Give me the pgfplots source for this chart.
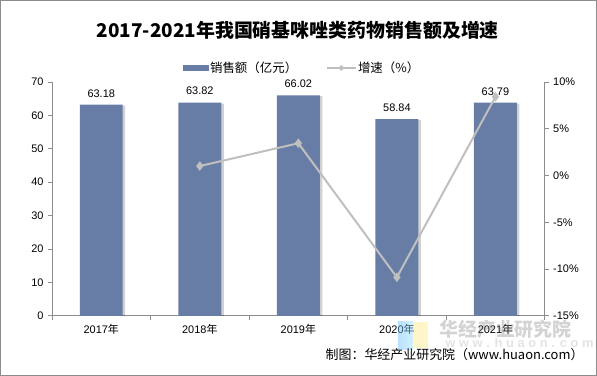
\documentclass[border=0pt]{standalone}
\usepackage{pgfplots}
\pgfplotsset{compat=1.18}
\usetikzlibrary{shapes.geometric}
\usepackage{fontspec}
\setmainfont{Liberation Sans}
\newfontfamily\cjk{Noto Sans CJK SC}
\definecolor{barc}{HTML}{687DA6}
\definecolor{linec}{HTML}{BFBFBF}
\definecolor{axc}{HTML}{8C8C8C}
\begin{document}
\begin{tikzpicture}[x=1bp,y=1bp]
\draw[color=axc, line width=1bp] (0.5,0.5) rectangle (596.5,375.5);
% title
\node[font=\cjk\bfseries\fontsize{19}{19}\selectfont] at (298,346) {2017-2021年我国硝基咪唑类药物销售额及增速};
% legend
\fill[barc] (183,305) rectangle (209,311);
\node[anchor=west, font=\cjk\fontsize{12.5}{13}\selectfont, inner sep=1bp] at (209,308) {销售额（亿元）};
\draw[linec, line width=2bp] (327,308) -- (356,308);
\node[diamond, fill=linec, inner sep=0pt, minimum size=6bp] at (341.5,308) {};
\node[anchor=west, font=\cjk\fontsize{12.5}{13}\selectfont, inner sep=1bp] at (357,308) {增速（\%）};
\begin{axis}[at={(52bp,60bp)}, anchor=south west, scale only axis,
  width=493bp, height=234bp,
  xmin=-0.5, xmax=4.5, ymin=0, ymax=70,
  ytick={0,10,...,70},
  xtick={0,...,4},
  xticklabels={2017{\cjk 年},2018{\cjk 年},2019{\cjk 年},2020{\cjk 年},2021{\cjk 年}},
  minor xtick={-0.5,0.5,1.5,2.5,3.5,4.5},
  axis y line*=left, axis x line*=bottom,
  axis line style={axc, line width=0.8bp, -},
  major x tick style={draw=none},
  minor x tick style={axc, line width=0.8bp},
  y tick style={axc, line width=0.8bp},
  tick align=outside, major tick length=4bp, minor tick length=4bp,
  ticklabel style={font=\fontsize{11}{12}\selectfont},
  /pgf/number format/assume math mode=true,
  yticklabel style={xshift=-1bp},
  xticklabel style={yshift=-1bp},
  clip=false,
]
% soft shadow of the bars
\addplot[ybar, bar width=43bp, bar shift=2.5bp, fill=black, fill opacity=0.18, draw=none, forget plot]
  coordinates {(0,62.9) (1,63.54) (2,65.74) (3,58.56) (4,63.51)};
\addplot[ybar, bar width=43bp, bar shift=0pt, fill=barc, draw=none,
  nodes near coords,
  nodes near coords style={font=\fontsize{11}{12}\selectfont, black, yshift=4bp,
    /pgf/number format/.cd, fixed, precision=2, fixed zerofill, assume math mode=true},
] coordinates {(0,63.18) (1,63.82) (2,66.02) (3,58.84) (4,63.79)};
\end{axis}
\begin{axis}[at={(52bp,60bp)}, anchor=south west, scale only axis,
  width=493bp, height=234bp,
  xmin=-0.5, xmax=4.5, ymin=-15, ymax=10,
  ytick={-15,-10,...,10},
  yticklabel={\pgfmathprintnumber{\tick}\%},
  axis y line*=right, axis x line=none,
  axis line style={axc, line width=0.8bp, -},
  y tick style={axc, line width=0.8bp},
  tick align=outside, major tick length=4bp,
  ticklabel style={font=\fontsize{11}{12}\selectfont},
  /pgf/number format/assume math mode=true,
  yticklabel style={xshift=1bp},
  clip=false,
]
\addplot[linec, line width=2bp, mark=diamond*, mark size=3.2bp,
  mark options={fill=linec, draw=linec}]
  coordinates {(1,1.01) (2,3.45) (3,-10.88) (4,8.41)};
\end{axis}
% watermark
\shade[left color=blue!45!cyan!60, right color=blue!30!cyan!40, opacity=0.45] (398,26) rectangle (413,54);
\fill[yellow!70!orange!60, opacity=0.35] (413,28) rectangle (428,54);
\node[anchor=west, text=gray, opacity=0.35, font=\cjk\bfseries\fontsize{19}{19}\selectfont] at (436,46) {华经产业研究院};
\node[anchor=west, text=gray, opacity=0.22, font=\bfseries\fontsize{13}{13}\selectfont] at (442,33) {w w w . h u a o n . c o m};
% footer
\node[anchor=east, font=\cjk\fontsize{13}{13}\selectfont, inner sep=0pt] at (584,21) {制图：华经产业研究院（www.huaon.com）};
\end{tikzpicture}
\end{document}
